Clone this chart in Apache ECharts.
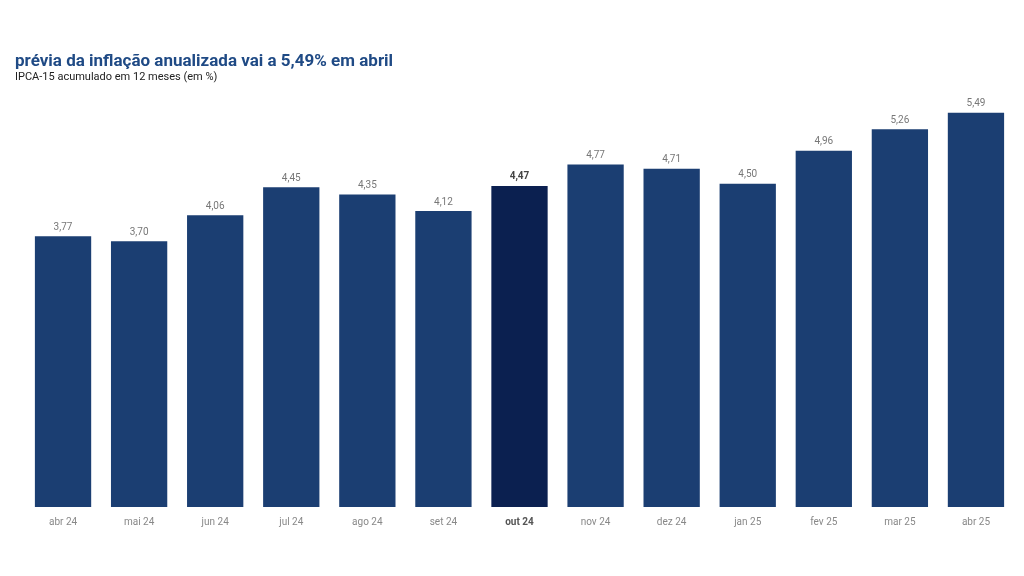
<!DOCTYPE html>
<html>
<head>
<meta charset="utf-8">
<script src="https://cdn.jsdelivr.net/npm/echarts@6/dist/echarts.min.js"></script>
<style>
html, body { margin: 0; padding: 0; background: #fff; }
#chart { width: 1024px; height: 576px; }
</style>
</head>
<body>
<div id="chart"></div>
<script>
// IPCA-15 acumulado em 12 meses
var months = ['abr 24', 'mai 24', 'jun 24', 'jul 24', 'ago 24', 'set 24', 'out 24',
    'nov 24', 'dez 24', 'jan 25', 'fev 25', 'mar 25', 'abr 25'];
var values = [3.77, 3.70, 4.06, 4.45, 4.35, 4.12, 4.47, 4.77, 4.71, 4.50, 4.96, 5.26, 5.49];
var highlight = 'out 24';

var barColor = '#1b3e72';
var hiColor = '#0b2050';

var myChart = echarts.init(document.getElementById('chart'));

var data = [];
for (let i = 0; i < values.length; i++) {
    data.push({
        value: values[i],
        itemStyle: { color: months[i] == highlight ? hiColor : barColor },
        label: months[i] == highlight ? { fontWeight: 'bold', color: '#444' } : {}
    });
}

option = {
    backgroundColor: '#fff',
    textStyle: { fontFamily: 'Roboto' },
    title: [
        {
            text: 'prévia da inflação anualizada vai a 5,49% em abril',
            left: 10,
            top: 48,
            textStyle: { color: '#1f4a85', fontSize: 17, fontWeight: 'bold', fontFamily: 'Roboto' }
        },
        {
            text: 'IPCA-15 acumulado em 12 meses (em %)',
            left: 10,
            top: 67,
            textStyle: { color: '#222', fontSize: 11, fontWeight: 'normal', fontFamily: 'Roboto' }
        }
    ],
    grid: {
        left: 25,
        right: 10,
        top: 20,
        bottom: 69
    },
    xAxis: {
        type: 'category',
        data: months,
        axisLine: { show: false },
        axisTick: { show: false },
        axisLabel: {
            color: '#888',
            fontSize: 10,
            margin: 10,
            formatter: function (v) {
                return v == highlight ? '{b|' + v + '}' : v;
            },
            rich: {
                b: { fontWeight: 'bold', color: '#555', fontSize: 10 }
            }
        }
    },
    yAxis: {
        type: 'value',
        min: 0,
        max: 6.78,
        show: false,
        splitLine: { show: false }
    },
    series: [
        {
            type: 'bar',
            data: data,
            barWidth: '74%',
            label: {
                show: true,
                position: 'top',
                distance: 4,
                color: '#777',
                fontSize: 10,
                formatter: function (p) {
                    return p.value.toFixed(2).replace('.', ',');
                }
            }
        }
    ]
};
myChart.setOption(option);
</script>
</body>
</html>
